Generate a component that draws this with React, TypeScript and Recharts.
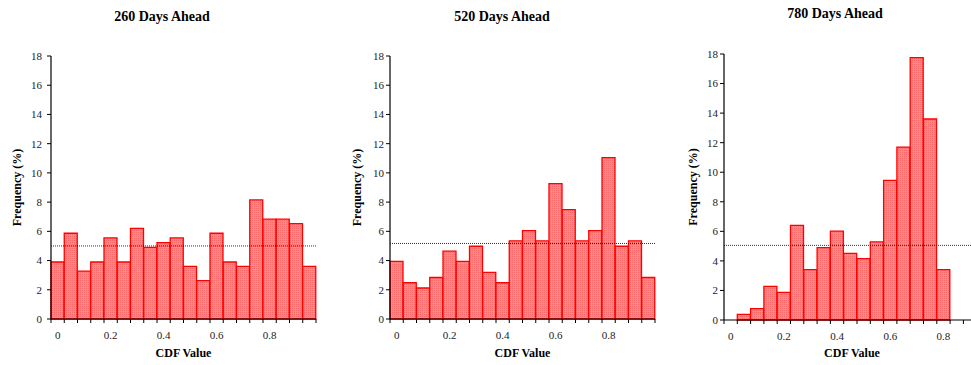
import { BarChart, Bar, XAxis, YAxis, ReferenceLine } from 'recharts';

// CDF bins (20 bins of width 0.05)
const categories = ['0', '0.05', '0.1', '0.15', '0.2', '0.25', '0.3', '0.35', '0.4', '0.45',
    '0.5', '0.55', '0.6', '0.65', '0.7', '0.75', '0.8', '0.85', '0.9', '0.95'];

const freq260 = [3.9, 5.87, 3.28, 3.9, 5.55, 3.9, 6.2, 4.9, 5.23, 5.55,
    3.6, 2.62, 5.87, 3.9, 3.6, 8.15, 6.83, 6.83, 6.53, 3.6];
const freq520 = [3.94, 2.48, 2.12, 2.84, 4.64, 3.94, 4.98, 3.19, 2.48, 5.35,
    6.05, 5.35, 9.26, 7.49, 5.35, 6.05, 11.04, 4.98, 5.35, 2.84];
const freq780 = [null, 0.38, 0.77, 2.28, 1.87, 6.4, 3.41, 4.9, 6.02, 4.51,
    4.15, 5.28, 9.45, 11.7, 17.75, 13.6, 3.41, null, null, null];

const titles = ['260 Days Ahead', '520 Days Ahead', '780 Days Ahead'];
const uniformLevel = [5.0, 5.17, 5.05];
const yTicks = [0, 2, 4, 6, 8, 10, 12, 14, 16, 18];
const xTickLabels = ['0', '0.2', '0.4', '0.6', '0.8'];

const FONT = 'Liberation Serif, serif';

interface PanelLayout {
    chartLeft: number,
    plotLeft: number,
    plotRight: number,
    plotTop: number,
    plotBottom: number,
    titleX: number,
    titleY: number,
    yLabelX: number,
}

const layouts: PanelLayout[] = [
    { chartLeft: 0, plotLeft: 51, plotRight: 316, plotTop: 56, plotBottom: 319, titleX: 162, titleY: 21, yLabelX: 17 },
    { chartLeft: 330, plotLeft: 390, plotRight: 655, plotTop: 56, plotBottom: 319, titleX: 502, titleY: 21, yLabelX: 357 },
    { chartLeft: 660, plotLeft: 724, plotRight: 990, plotTop: 54, plotBottom: 320, titleX: 835, titleY: 18, yLabelX: 693 },
];

const series = [freq260, freq520, freq780];

function Panel({ values, level, lay, idx }: { values: (number | null)[], level: number, lay: PanelLayout, idx: number }) {
    const data = categories.map((c, i) => ({ cdf: c, freq: values[i] }));
    const width = lay.plotRight - lay.chartLeft + 6;
    const bw = (lay.plotRight - lay.plotLeft) / categories.length;

    const XTick = (props: any) => {
        const { x, y, payload, index } = props;
        const show = xTickLabels.includes(payload.value);
        return (
            <g>
                <line x1={x - bw / 2} x2={x - bw / 2} y1={y} y2={y + 4} stroke="#000" />
                {index === categories.length - 1 && (
                    <line x1={x + bw / 2} x2={x + bw / 2} y1={y} y2={y + 4} stroke="#000" />
                )}
                {show && (
                    <text x={x} y={y + 20} textAnchor="middle" style={{ fontSize: 11, fontFamily: FONT }} fill="#222">
                        {payload.value}
                    </text>
                )}
            </g>
        );
    };

    return (
        <div style={{ position: 'absolute', left: lay.chartLeft, top: 0, fontFamily: FONT }}>
            <BarChart
                width={width}
                height={365}
                data={data}
                barCategoryGap={0}
                margin={{ top: lay.plotTop, right: 6, bottom: 0, left: 0 }}
            >
                <XAxis
                    dataKey="cdf"
                    interval={0}
                    height={365 - lay.plotBottom}
                    tickSize={0}
                    tickMargin={0}
                    tick={XTick}
                    axisLine={{ stroke: '#000', strokeWidth: 1.2 }}
                />
                <XAxis xAxisId="top" dataKey="cdf" orientation="top" height={0} tick={false} tickLine={false}
                    axisLine={{ stroke: '#999' }} />
                <YAxis
                    domain={[0, 18]}
                    ticks={yTicks}
                    interval={0}
                    width={lay.plotLeft - lay.chartLeft}
                    tickSize={4}
                    tickMargin={idx === 0 ? 5 : 2}
                    tickLine={{ stroke: '#000' }}
                    axisLine={{ stroke: '#000', strokeWidth: 1.2 }}
                    tick={{ fontSize: 11, fontFamily: FONT, fill: '#222' }}
                />
                <YAxis yAxisId="right" orientation="right" domain={[0, 18]} width={0} tick={false} tickLine={false}
                    axisLine={{ stroke: '#999' }} />
                <Bar
                    dataKey="freq"
                    fill="url(#redDots)"
                    stroke="#ff0000"
                    strokeWidth={1.3}
                    isAnimationActive={false}
                />
                <ReferenceLine y={level} stroke="#000" strokeWidth={0.8} strokeDasharray="1 1" />
            </BarChart>
        </div>
    );
}

export default function App() {
    return (
        <div style={{ position: 'absolute', left: 0, top: 0, width: 971, height: 365, overflow: 'hidden', background: '#fff' }}>
            {layouts.map((lay, i) => (
                <Panel key={titles[i]} values={series[i]} level={uniformLevel[i]} lay={lay} idx={i} />
            ))}
            <svg width={971} height={365} style={{ position: 'absolute', left: 0, top: 0, pointerEvents: 'none' }}>
                <defs>
                    <pattern id="redDots" width={2} height={2} patternUnits="userSpaceOnUse">
                        <rect width={2} height={2} fill="#ff8a8a" />
                        <rect width={1} height={1} fill="#ff6868" />
                    </pattern>
                </defs>
                {layouts.map((lay, i) => {
                    const cx = (lay.plotLeft + Math.min(lay.plotRight, 980)) / 2;
                    const cy = (lay.plotTop + lay.plotBottom) / 2;
                    const textStyle = { fontFamily: FONT, fontWeight: 'bold' as const };
                    return (
                        <g key={titles[i]} fill="#000">
                            <text x={lay.titleX} y={lay.titleY} textAnchor="middle" style={{ ...textStyle, fontSize: 14 }}>{titles[i]}</text>
                            <text x={i === 2 ? 852 : cx} y={357} textAnchor="middle" style={{ ...textStyle, fontSize: 12 }}>CDF Value</text>
                            <text x={lay.yLabelX} y={cy} textAnchor="middle" dominantBaseline="central"
                                style={{ ...textStyle, fontSize: 12 }}
                                transform={`rotate(-90 ${lay.yLabelX} ${cy})`}>Frequency (%)</text>
                        </g>
                    );
                })}
            </svg>
        </div>
    );
}
